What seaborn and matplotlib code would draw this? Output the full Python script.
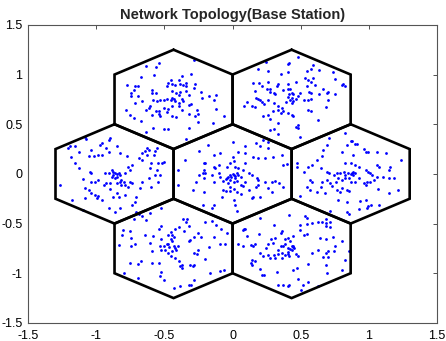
import numpy as np
import pandas as pd
import matplotlib
matplotlib.use("Agg")
import matplotlib.pyplot as plt
import seaborn as sns

# Base-station cell centres (data units) and hexagon radius
cell_names = ["TL", "TR", "L", "C", "R", "BL", "BR"]
cell_x = [-0.433, 0.433, -0.866, 0.0, 0.866, -0.433, 0.433]
cell_y = [0.75, 0.75, 0.0, 0.0, 0.0, -0.75, -0.75]
hex_radius = 0.5

# User positions, offsets from each cell centre in hundredths of a unit
users_tl = [(-11,37),(-13,33),(-20,34),(-24,23),(-14,25),(15,40),(-2,20),(-1,16),(6,24),(13,26),
            (4,20),(7,14),(9,13),(5,15),(1,14),(-4,17),(-5,13),(-1,8),(2,6),(4,4),(5,7),(9,8),
            (11,4),(15,11),(20,7),(-16,9),(-13,6),(-16,6),(-15,-1),(-12,-2),(-10,-1),(-7,-1),
            (-5,0),(-2,-1),(-1,1),(0,0),(1,-2),(4,-4),(6,0),(7,-2),(11,-6),(13,-5),(6,-11),
            (4,-7),(-1,-7),(-4,-10),(-7,-9),(-11,-12),(-13,-12),(-17,-7),(-18,-9),(-20,-11),
            (-16,-16),(-11,-15),(-10,-17),(-5,-13),(-1,-17),(2,-18),(11,-15),(17,-11),(18,-15),
            (16,-17),(30,-1),(31,-10),(37,-17),(29,-24),(18,-23),(11,-29),(-4,-30),(-7,-30),
            (-15,-29),(-20,-33),(-24,-22),(-29,-19),(-32,-16),(-35,-11),(-28,-4),(-26,3),(-31,6),
            (-29,9),(-34,14),(-28,13),(-26,13),(-31,3),(-23,-2),(9,-40),(21,1),(26,3),(16,16),
            (31,4),(9,17)]
users_tr = [(5,43),(-2,37),(-3,36),(-19,38),(-25,31),(-17,29),(-8,26),(-3,28),(11,29),(14,31),
            (16,35),(20,30),(30,28),(32,21),(38,16),(37,14),(39,13),(16,22),(12,20),(10,22),
            (3,18),(-3,16),(-10,16),(-16,10),(-18,10),(-22,13),(-24,17),(-28,17),(-27,8),(-26,1),
            (-25,0),(-23,-1),(-22,-3),(-33,-3),(-35,-7),(-29,-7),(-27,-8),(-20,-5),(-17,-1),
            (-16,7),(-13,6),(-12,5),(-6,9),(-3,10),(-1,10),(0,6),(1,5),(-2,5),(-3,2),(0,1),
            (-1,-1),(1,-2),(-4,-3),(0,-4),(3,0),(5,3),(6,6),(9,-1),(12,-1),(14,0),(14,6),(13,7),
            (20,5),(23,10),(26,6),(27,7),(27,-1),(32,5),(17,14),(14,18),(-13,-4),(-10,-7),(-7,-9),
            (-10,-11),(-6,-12),(-3,-14),(0,-16),(1,-17),(-8,-14),(-14,-12),(-17,-16),(-21,-17),
            (-16,-20),(-10,-24),(-13,-30),(-16,-31),(-10,-35),(5,-26),(3,-28),(5,-29),(6,-38),
            (12,-11),(14,-12),(19,-21),(25,-8),(11,13),(-17,18),(-11,13)]
users_l = [(-22,37),(-21,35),(-3,36),(-4,34),(-9,31),(-11,29),(-33,28),(-34,26),(-29,28),(-26,22),
           (-17,24),(-6,26),(-4,22),(2,28),(4,21),(9,18),(-19,18),(-15,18),(-12,19),(-9,19),
           (-32,17),(-29,11),(-26,6),(-18,2),(-17,1),(-7,1),(-4,1),(-2,4),(-1,2),(0,1),(2,0),
           (3,1),(-1,-1),(-2,-3),(0,-4),(2,-3),(4,-1),(4,-8),(5,-6),(7,-8),(5,-11),(2,-9),(-3,-9),
           (-6,-9),(-8,-11),(-12,-6),(-14,-8),(-17,-8),(-23,-5),(-22,-14),(-19,-16),(-17,-19),
           (-14,-21),(-12,-22),(-13,-24),(-22,-24),(-31,-26),(-40,-11),(-3,-15),(2,-19),(8,-11),
           (10,-13),(11,-8),(13,-9),(8,1),(11,4),(13,9),(10,7),(18,16),(20,14),(20,21),(22,23),
           (24,19),(24,26),(25,24),(29,19),(30,23),(31,26),(32,11),(35,11),(36,12),(27,11),(26,6),
           (31,4),(33,-1),(30,-1),(25,-4),(20,-8),(19,-14),(27,-13),(32,-8),(16,-23),(15,-28),
           (13,-31),(16,-38),(18,-40),(4,-34),(0,-38),(-4,-34),(-23,-36),(8,-21),(-1,-23),
           (3,-23),(-9,-26)]
users_c = [(0,32),(9,28),(17,31),(22,34),(26,32),(20,28),(26,26),(-25,23),(-18,29),(-14,19),
           (-9,21),(4,22),(9,21),(15,17),(19,16),(24,16),(30,17),(36,19),(37,9),(40,10),(-35,14),
           (-21,11),(-20,11),(-14,7),(-13,6),(-10,9),(-4,7),(-2,11),(0,17),(1,13),(2,7),(4,6),
           (9,11),(8,4),(12,1),(14,-1),(18,-4),(19,-6),(24,-8),(29,-8),(31,-7),(34,-9),(26,-14),
           (9,-8),(6,-3),(4,-1),(3,1),(2,-2),(1,-1),(0,0),(-2,-1),(-3,-3),(-4,-4),(-5,-5),(-2,-6),
           (-1,-3),(2,-4),(3,-7),(1,-8),(-3,-9),(-7,-7),(-9,-3),(-10,1),(-15,-1),(-20,1),(-21,4),
           (-22,1),(-21,-4),(-25,-1),(-27,-8),(-29,-16),(-21,-18),(-14,-8),(-7,-16),(-5,-17),
           (-2,-17),(1,-15),(3,-18),(6,-20),(6,-11),(8,-12),(12,-16),(17,-13),(19,-11),(-22,-31),
           (-14,-31),(-15,-34),(1,-26),(2,-31),(3,-37),(-2,-13),(-40,4),(-40,-11),(37,-13),
           (29,-18),(20,-23),(14,-24),(15,-23),(-8,-23)]
users_r = [(-4,41),(0,33),(1,33),(3,30),(5,30),(-3,29),(-17,29),(-20,24),(-21,18),(-6,22),(2,19),
           (10,25),(11,22),(13,22),(19,22),(26,21),(37,14),(29,7),(28,4),(21,7),(19,9),(13,2),
           (14,1),(16,-1),(11,4),(6,7),(3,9),(0,11),(-4,11),(2,2),(1,1),(0,0),(2,-1),(3,1),(-2,1),
           (-4,-1),(-5,2),(-8,1),(-10,1),(-12,-1),(-16,1),(-17,2),(-22,6),(-25,14),(-28,9),(-31,7),
           (-34,2),(-39,11),(-39,7),(-30,-6),(-28,-8),(-32,-13),(-30,-16),(-22,-13),(-21,-8),
           (-17,-6),(-15,-9),(-14,-12),(-11,-8),(-9,-4),(-6,-6),(-4,-4),(-1,-4),(0,-8),(3,-8),
           (6,-4),(10,-9),(11,-11),(12,-8),(14,-8),(17,-6),(19,-3),(24,-3),(28,-4),(32,-4),
           (20,-15),(28,-19),(35,-16),(-10,-16),(-8,-18),(-6,-14),(-3,-16),(-1,-17),(-19,-19),
           (-25,-18),(-37,-22),(-9,-26),(-3,-28),(7,-27),(11,-26),(12,-34),(13,-32),(15,-31),
           (6,-35),(-15,-37),(-3,-38),(-1,-40),(21,-31),(-16,36)]
users_bl = [(-9,41),(-17,36),(-23,33),(-29,30),(-20,29),(7,30),(10,30),(9,27),(11,23),(8,18),
            (4,22),(1,20),(-2,17),(-4,14),(-1,14),(0,11),(-2,9),(-1,7),(-4,4),(-5,4),(-7,2),
            (-9,-2),(-10,2),(-9,9),(-6,-2),(-3,1),(0,2),(1,0),(3,2),(2,-2),(-1,-3),(-4,-5),(-2,-8),
            (1,-10),(4,-13),(5,-18),(6,-20),(6,-17),(12,-17),(14,-18),(15,-17),(11,7),(12,8),
            (18,16),(15,11),(20,11),(23,27),(28,28),(31,24),(35,20),(39,16),(30,11),(34,4),(38,4),
            (26,1),(18,-2),(17,-6),(15,-5),(23,-11),(15,-32),(11,-37),(13,-37),(5,-38),(0,-40),
            (-7,-32),(-10,-28),(-9,-24),(-11,-15),(-16,-15),(-24,-13),(-26,-16),(-32,-15),
            (-36,-25),(-26,-30),(-40,3),(-37,19),(-38,14),(-32,18),(-31,10),(-31,2),(-28,4),
            (-21,14),(-17,5),(-16,-3),(-15,13),(-11,20),(-9,23),(34,-23),(37,-22),(27,-25)]
users_br = [(-2,34),(-23,31),(-13,24),(-7,18),(-8,16),(6,24),(10,33),(11,31),(11,25),(15,26),
            (19,27),(22,27),(25,26),(25,23),(28,22),(28,27),(25,30),(6,19),(9,14),(11,15),(21,10),
            (25,9),(30,11),(37,7),(32,2),(31,-3),(27,-3),(25,-5),(23,-9),(27,-9),(25,-17),(26,-25),
            (37,-22),(39,-12),(42,-3),(12,-16),(15,-5),(19,-2),(5,-8),(3,-6),(0,-2),(1,1),(1,2),
            (2,0),(0,2),(-1,-1),(-3,0),(-5,4),(-6,2),(-8,2),(-10,-2),(-10,-6),(-7,-5),(-5,-7),
            (-3,-4),(-2,-8),(-3,-6),(-1,7),(-3,10),(-5,9),(1,12),(-12,10),(-15,9),(-14,5),(-17,4),
            (-19,0),(-23,-5),(-21,-8),(-17,-7),(-16,-10),(-13,-7),(-12,-10),(-7,-10),(-27,4),
            (-28,2),(-30,3),(-36,2),(-39,4),(-36,19),(-35,20),(-34,20),(-33,12),(-24,15),(-29,-12),
            (-30,-15),(-29,-17),(-27,-13),(-23,-21),(-22,-27),(-20,-27),(-11,-24),(-6,-37),
            (-3,-38),(-2,-37),(5,-31),(8,-37),(12,-34),(7,-42),(19,-38),(1,-22),(4,-20),(-10,-37)]

tick_values = [-1.5, -1, -0.5, 0, 0.5, 1, 1.5]
tick_labels = ["-1.5", "-1", "-0.5", "0", "0.5", "1", "1.5"]
title_text = "Network Topology(Base Station)"

all_users = [users_tl, users_tr, users_l, users_c, users_r, users_bl, users_br]
rows = []
for name, cx, cy, users in zip(cell_names, cell_x, cell_y, all_users):
    for dx, dy in users:
        rows.append({"cell": name, "x": cx + dx / 100.0, "y": cy + dy / 100.0})
df = pd.DataFrame(rows)

sns.set_style("white")
plt.rcParams["font.family"] = ["Liberation Sans", "DejaVu Sans"]

fig = plt.figure(figsize=(4.46, 3.41), dpi=100)
ax = fig.add_axes([0.063, 0.053, 0.917, 0.874])

# hexagon outlines
ang = np.deg2rad(np.arange(90, 90 + 361, 60))
for cx, cy in zip(cell_x, cell_y):
    ax.plot(cx + hex_radius * np.cos(ang), cy + hex_radius * np.sin(ang),
            color="black", lw=1.9, solid_joinstyle="miter", zorder=3)

sns.scatterplot(data=df, x="x", y="y", ax=ax, color="#0000ff", s=4,
                linewidth=0, legend=False, zorder=2)

ax.set_xlim(-1.5, 1.5)
ax.set_ylim(-1.5, 1.5)
ax.set_xticks(tick_values)
ax.set_xticklabels(tick_labels)
ax.set_yticks(tick_values)
ax.set_yticklabels(tick_labels)
ax.set_xlabel("")
ax.set_ylabel("")
ax.tick_params(direction="in", length=3, width=0.6, colors="#333333",
               labelcolor="black", labelsize=9, top=True, right=True)
ax.tick_params(axis="x", pad=5)
ax.tick_params(axis="y", pad=4)
for sp in ax.spines.values():
    sp.set_visible(True)
    sp.set_color("#555555")
    sp.set_linewidth(0.8)
ax.set_title(title_text, fontsize=10.5, fontweight="bold", pad=4)

fig.savefig("out.png", dpi=100)
